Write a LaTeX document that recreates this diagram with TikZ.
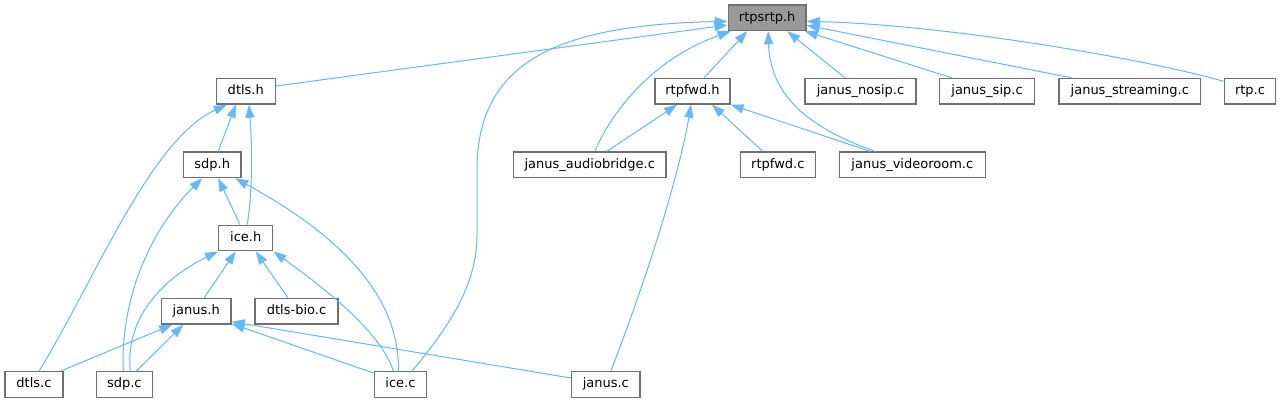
\documentclass[tikz,border=0pt]{standalone}
\usepackage{fontspec}
\setmainfont{DejaVu Sans}
\usetikzlibrary{arrows.meta,calc}
\definecolor{edgeblue}{HTML}{63B8FF}
\definecolor{boxline}{HTML}{707070}
\definecolor{rootfill}{HTML}{999999}
\begin{document}
\begin{tikzpicture}[x=0.75pt,y=-0.75pt,
  box/.style={draw=boxline, fill=white, line width=1.05pt, rectangle, inner sep=0pt,
    minimum height=19.1pt, text height=7.3pt, text depth=2.3pt,
    font=\fontsize{9.75pt}{12pt}\selectfont},
  root/.style={box, fill=rootfill},
  e/.style={draw=edgeblue, line width=0.75pt, -{Triangle[length=9.75pt,width=6.8pt]}}]
\fill[white] (0,0) rectangle (1281,403);
\useasboundingbox (0,0) rectangle (1281,403);
% row 1
\node[root, minimum width=58.3pt] (rtpsrtp) at (767.2,17.8) {rtpsrtp.h};
% row 2
\node[box, minimum width=44.25pt] (dtlsh) at (245.8,91.3) {dtls.h};
\node[box, minimum width=56.25pt] (rtpfwdh) at (692.5,91.3) {rtpfwd.h};
\node[box, minimum width=83.25pt] (nosip) at (860.5,91.3) {janus\_nosip.c};
\node[box, minimum width=71.55pt] (sip) at (987,91.3) {janus\_sip.c};
\node[box, minimum width=106.3pt] (streaming) at (1129.8,91.3) {janus\_streaming.c};
\node[box, minimum width=38.55pt] (rtpc) at (1250,91.3) {rtp.c};
% row 3
\node[box, minimum width=43.3pt] (sdph) at (212.2,164.8) {sdp.h};
\node[box, minimum width=114.2pt] (audiobridge) at (589.8,164.8) {janus\_audiobridge.c};
\node[box, minimum width=56.25pt] (rtpfwdc) at (777.8,164.8) {rtpfwd.c};
\node[box, minimum width=109.5pt] (videoroom) at (912.3,164.8) {janus\_videoroom.c};
% row 4
\node[box, minimum width=40.5pt] (iceh) at (245.7,238) {ice.h};
% row 5
\node[box, minimum width=52.3pt] (janush) at (196.2,311.3) {janus.h};
\node[box, minimum width=62.25pt] (dtlsbio) at (296.5,311.3) {dtls-bio.c};
% row 6
\node[box, minimum width=43.5pt] (dtlsc) at (34,384.5) {dtls.c};
\node[box, minimum width=42pt] (sdpc) at (124.3,384.5) {sdp.c};
\node[box, minimum width=39.15pt] (icec) at (400.4,384.5) {ice.c};
\node[box, minimum width=51.2pt] (janusc) at (605.8,384.5) {janus.c};
% edges to rtpsrtp.h
\draw[e] ($(dtlsh.east)+(0,-5.3)$) -- ($(rtpsrtp.west)+(0,7.2)$);
\draw[e] ($(icec.north)+(11.6,0)$) .. controls (455,320) and (477,280) .. (477,235) -- (477,170) .. controls (477,60) and (560,25) .. ($(rtpsrtp.west)+(0,3.5)$);
\draw[e] ($(audiobridge.north)+(5,0)$) .. controls (610,115) and (650,60) .. ($(rtpsrtp.south west)+(3,0)$);
\draw[e] ($(rtpfwdh.north)+(11.5,0)$) -- ($(rtpsrtp.south)+(-20,0)$);
\draw[e] ($(videoroom.north)+(-37,0)$) .. controls (800,125) and (770,90) .. ($(rtpsrtp.south)+(1,0)$);
\draw[e] ($(nosip.north)+(-15.5,0)$) -- ($(rtpsrtp.south)+(20,0)$);
\draw[e] ($(sip.north)+(-35,0)$) -- ($(rtpsrtp.south east)+(-2,0)$);
\draw[e] ($(streaming.north)+(-58,0)$) -- ($(rtpsrtp.east)+(0,7.5)$);
\draw[e] ($(rtpc.west)+(0,-10)$) .. controls (1150,60) and (950,25) .. ($(rtpsrtp.east)+(0,3.5)$);
% edges to dtls.h
\draw[e] ($(sdph.north)+(6,0)$) -- ($(dtlsh.south)+(-10,0)$);
\draw[e] ($(iceh.north)+(1.5,0)$) .. controls (253,190) and (252,140) .. ($(dtlsh.south)+(3,0)$);
\draw[e] ($(dtlsc.north)+(5,0)$) .. controls (95,280) and (150,140) .. ($(dtlsh.south)+(-19,0)$);
% edges to sdp.h
\draw[e] ($(iceh.north)+(-5.7,0)$) -- ($(sdph.south)+(6,0)$);
\draw[e] ($(sdpc.north)+(-1,0)$) .. controls (120,300) and (150,230) .. ($(sdph.south)+(-10,0)$);
\draw[e] ($(icec.north)+(-2,0)$) .. controls (400,290) and (330,230) .. ($(sdph.south)+(23,0)$);
% edges to ice.h
\draw[e] ($(janush.north)+(8,0)$) -- ($(iceh.south)+(-10,0)$);
\draw[e] ($(dtlsbio.north)+(-8.5,0)$) -- ($(iceh.south)+(10,0)$);
\draw[e] ($(sdpc.north)+(6,0)$) .. controls (125,320) and (160,280) .. (iceh.south west);
\draw[e] ($(icec.north)+(-7,0)$) .. controls (380,330) and (320,285) .. (iceh.south east);
% edges to janus.h
\draw[e] ($(dtlsc.north east)+(-3,0)$) -- ($(janush.south)+(-24,0)$);
\draw[e] ($(sdpc.north)+(12,0)$) -- ($(janush.south)+(-13,0)$);
\draw[e] ($(icec.north west)+(0,2)$) -- ($(janush.south east)+(0,-1)$);
\draw[e] ($(janusc.west)+(0,-6.5)$) -- ($(janush.south east)+(0,-3)$);
% edges to rtpfwd.h
\draw[e] ($(audiobridge.north)+(17,0)$) -- ($(rtpfwdh.south)+(-15.5,0)$);
\draw[e] ($(janusc.north)+(5,0)$) .. controls (650,270) and (680,170) .. ($(rtpfwdh.south)+(-1.5,0)$);
\draw[e] ($(rtpfwdc.north)+(-15,0)$) -- ($(rtpfwdh.south)+(19.5,0)$);
\draw[e] ($(videoroom.north)+(-42,0)$) -- (rtpfwdh.south east);
\end{tikzpicture}
\end{document}
